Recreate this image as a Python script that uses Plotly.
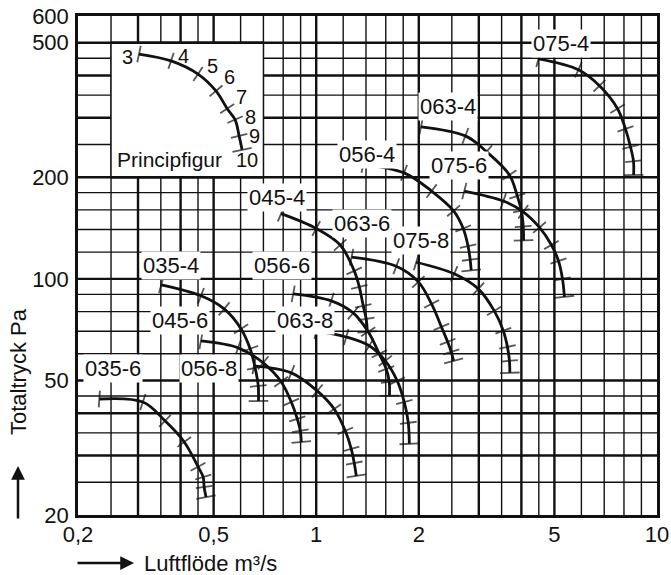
import numpy as np
import plotly.graph_objects as go

# ---------------- axes ----------------
x_min, x_max = 0.2, 10
y_min, y_max = 20, 600
x_tickvals = [0.2, 0.5, 1, 2, 5, 10]
x_ticktext = ["0,2", "0,5", "1", "2", "5", "10"]
y_tickvals = [20, 50, 100, 200, 500, 600]
y_ticktext = ["20", "50", "100", "200", "500", "600"]

x_grid_major = [0.3, 0.4, 0.5, 1, 2, 3, 4, 5]
x_grid_minor = [0.25, 0.35, 0.45, 0.6, 0.7, 0.8, 0.9, 1.2, 1.4, 1.6, 1.8,
                2.5, 3.5, 4.5, 6, 7, 8, 9]
y_grid_major = [30, 40, 50, 100, 200, 300, 400, 500]
y_grid_minor = [25, 35, 45, 60, 70, 80, 90, 120, 140, 160, 180, 250, 350, 450]

# ---------------- fan curves (Luftflöde m3/s, Totaltryck Pa), steps 3..10 ----------------
q_035_6 = [0.231, 0.310, 0.360, 0.410, 0.450, 0.466, 0.469, 0.475]
p_035_6 = [44.1, 43.2, 38.0, 32.9, 27.8, 25.9, 24.2, 22.6]
q_035_4 = [0.351, 0.459, 0.537, 0.602, 0.640, 0.662, 0.676, 0.677]
p_035_4 = [96.0, 89.1, 81.5, 71.1, 62.1, 54.5, 48.2, 43.5]
q_045_6 = [0.459, 0.590, 0.699, 0.789, 0.845, 0.880, 0.898, 0.904]
p_045_6 = [65.5, 62.5, 56.4, 49.6, 43.2, 38.5, 35.5, 32.9]
q_045_4 = [0.789, 1.0, 1.176, 1.293, 1.338, 1.374, 1.402, 1.412]
p_045_4 = [156, 141, 126, 105.6, 94.7, 83.2, 76.1, 69.7]
q_056_8 = [0.657, 0.845, 1.007, 1.129, 1.217, 1.267, 1.293, 1.311]
p_056_8 = [55.3, 52.7, 46.6, 41.2, 35.5, 31.4, 28.5, 26.1]
q_056_6 = [0.856, 1.107, 1.284, 1.421, 1.531, 1.605, 1.638, 1.640]
p_056_6 = [90.3, 86.1, 79.3, 69.7, 60.0, 54.1, 49.6, 45.1]
q_056_4 = [1.374, 1.81, 2.18, 2.53, 2.70, 2.79, 2.83, 2.85]
p_056_4 = [218, 206, 182, 159, 141, 125, 114, 106]
q_063_8 = [1.0, 1.225, 1.431, 1.595, 1.729, 1.813, 1.863, 1.876]
p_063_8 = [70.2, 67.3, 63.4, 57.2, 49.9, 43.2, 37.5, 32.5]
q_063_6 = [1.27, 1.718, 1.994, 2.18, 2.33, 2.43, 2.49, 2.53]
p_063_6 = [116, 109, 98, 84.3, 72.1, 65.1, 60.8, 57.2]
q_063_4 = [2.03, 2.74, 3.16, 3.69, 3.89, 4.0, 4.05, 4.06]
p_063_4 = [282, 265, 238, 203, 176, 159, 143, 130]
q_075_8 = [1.966, 2.54, 2.99, 3.33, 3.54, 3.64, 3.69, 3.70]
p_075_8 = [112, 103.5, 93.4, 80.4, 70.2, 62.9, 57.2, 52.7]
q_075_6 = [2.72, 3.54, 4.05, 4.52, 4.90, 5.14, 5.28, 5.35]
p_075_6 = [182, 170, 158, 142, 126, 113, 100, 88.5]
q_075_4 = [4.49, 5.88, 6.78, 7.66, 8.08, 8.36, 8.53, 8.54]
p_075_4 = [448, 416, 373, 319, 278, 246, 223, 203]

curve_names = ["035-6", "035-4", "045-6", "045-4", "056-8", "056-6", "056-4",
               "063-8", "063-6", "063-4", "075-8", "075-6", "075-4"]
curve_q = [q_035_6, q_035_4, q_045_6, q_045_4, q_056_8, q_056_6, q_056_4,
           q_063_8, q_063_6, q_063_4, q_075_8, q_075_6, q_075_4]
curve_p = [p_035_6, p_035_4, p_045_6, p_045_4, p_056_8, p_056_6, p_056_4,
           p_063_8, p_063_6, p_063_4, p_075_8, p_075_6, p_075_4]

# curve label positions
label_q = [0.2535, 0.375, 0.399, 0.768, 0.485, 0.795, 1.41, 0.928, 1.365, 2.44, 2.03, 2.63, 5.21]
label_p = [54.2, 109.3, 75.1, 174, 54.2, 109.3, 234, 75.1, 146, 323, 130, 216, 496]

# ---------------- Principfigur ----------------
box_q = [0.25, 0.7]
box_p = [200, 500]
q_princip = [0.302, 0.375, 0.450, 0.508, 0.548, 0.578, 0.594, 0.606]
p_princip = [463, 442, 404, 360, 319, 296, 265, 241]
princip_steps = ["3", "4", "5", "6", "7", "8", "9", "10"]
princip_label_q = [0.279, 0.407, 0.495, 0.555, 0.602, 0.640, 0.657, 0.627]
princip_label_p = [454, 457, 427, 396, 346, 302, 265, 225]
princip_title_q, princip_title_p = 0.370, 225

# ---------------- figure geometry ----------------
W, H = 671, 575
ML, MR, MT, MB = 78, 14, 16, 60
PW, PH = W - ML - MR, H - MT - MB
KX = PW / (np.log10(x_max) - np.log10(x_min))
KY = PH / (np.log10(y_max) - np.log10(y_min))

FONT = "Liberation Sans, Arial, Helvetica, sans-serif"
INK = "#111111"

fig = go.Figure()


def grid_trace(vals, vertical, width):
    xs, ys = [], []
    for v in vals:
        if vertical:
            xs += [v, v, None]
            ys += [y_min, y_max, None]
        else:
            xs += [x_min, x_max, None]
            ys += [v, v, None]
    return go.Scatter(x=xs, y=ys, mode="lines", line=dict(color=INK, width=width),
                      hoverinfo="skip", showlegend=False)


fig.add_trace(grid_trace(x_grid_minor, True, 1.4))
fig.add_trace(grid_trace(y_grid_minor, False, 1.4))
fig.add_trace(grid_trace(x_grid_major, True, 2.4))
fig.add_trace(grid_trace(y_grid_major, False, 2.4))

# white Principfigur panel
fig.add_trace(go.Scatter(
    x=[box_q[0], box_q[1], box_q[1], box_q[0], box_q[0]],
    y=[box_p[0], box_p[0], box_p[1], box_p[1], box_p[0]],
    mode="lines", fill="toself", fillcolor="white", line=dict(width=0, color="white"),
    hoverinfo="skip", showlegend=False))
fig.add_trace(go.Scatter(
    x=[box_q[0], box_q[0], None, box_q[1], box_q[1]],
    y=[box_p[0], box_p[1], None, box_p[0], box_p[1]],
    mode="lines", line=dict(color=INK, width=1.4), hoverinfo="skip", showlegend=False))
fig.add_trace(go.Scatter(
    x=[box_q[0], box_q[1], None, box_q[0], box_q[1]],
    y=[box_p[0], box_p[0], None, box_p[1], box_p[1]],
    mode="lines", line=dict(color=INK, width=2.4), hoverinfo="skip", showlegend=False))


def tick_angles(q, p):
    sx = np.log10(np.asarray(q, float)) * KX
    sy = -np.log10(np.asarray(p, float)) * KY
    return np.degrees(np.arctan2(np.gradient(sy), np.gradient(sx)))


def add_curve(q, p, name):
    fig.add_trace(go.Scatter(
        x=q, y=p, mode="lines", name=name,
        line=dict(color=INK, width=2.8, shape="spline", smoothing=1.0),
        hoverinfo="skip", showlegend=False))
    ang = tick_angles(q, p)
    sizes = [12] + [12] * (len(q) - 2) + [14]
    fig.add_trace(go.Scatter(
        x=q, y=p, mode="markers",
        marker=dict(symbol="line-ns", size=sizes, angle=list(ang),
                    line=dict(color=INK, width=1.8)),
        hoverinfo="skip", showlegend=False))


for q, p, n in zip(curve_q, curve_p, curve_names):
    add_curve(q, p, n)
add_curve(q_princip, p_princip, "Principfigur")

annotations = []
for n, q, p in zip(curve_names, label_q, label_p):
    annotations.append(dict(x=np.log10(q), y=np.log10(p), xref="x", yref="y",
                            text=n, showarrow=False, bgcolor="white", borderpad=1,
                            font=dict(family=FONT, size=22, color=INK)))
for t, q, p in zip(princip_steps, princip_label_q, princip_label_p):
    annotations.append(dict(x=np.log10(q), y=np.log10(p), xref="x", yref="y",
                            text=t, showarrow=False,
                            font=dict(family=FONT, size=20, color=INK)))
annotations.append(dict(x=np.log10(princip_title_q), y=np.log10(princip_title_p),
                        xref="x", yref="y", text="Principfigur", showarrow=False,
                        font=dict(family=FONT, size=21, color=INK)))

# axis titles with arrows
annotations.append(dict(x=(142 - ML) / PW, y=-(563 - (MT + PH)) / PH, xref="paper", yref="paper",
                        text="Luftflöde m³/s", showarrow=False, xanchor="left", yanchor="middle",
                        font=dict(family=FONT, size=22, color=INK)))
annotations.append(dict(x=(134 - ML) / PW, y=-(563 - (MT + PH)) / PH, xref="paper", yref="paper",
                        text="", showarrow=True, ax=-58, ay=0, arrowhead=2, arrowsize=1.1,
                        arrowwidth=2.5, arrowcolor=INK))
annotations.append(dict(x=(18 - ML) / PW, y=((MT + PH) - 372) / PH, xref="paper", yref="paper",
                        text="Totaltryck Pa", showarrow=False, textangle=-90,
                        xanchor="center", yanchor="middle",
                        font=dict(family=FONT, size=22, color=INK)))
annotations.append(dict(x=(18 - ML) / PW, y=((MT + PH) - 466) / PH, xref="paper", yref="paper",
                        text="", showarrow=True, ax=0, ay=54, arrowhead=2, arrowsize=1.1,
                        arrowwidth=2.5, arrowcolor=INK))

fig.update_layout(
    width=W, height=H,
    margin=dict(l=ML, r=MR, t=MT, b=MB, pad=0, autoexpand=False),
    paper_bgcolor="white", plot_bgcolor="white",
    showlegend=False,
    annotations=annotations,
    font=dict(family=FONT, size=22, color=INK),
    xaxis=dict(type="log", range=[np.log10(x_min), np.log10(x_max)],
               tickvals=x_tickvals, ticktext=x_ticktext, showgrid=False, zeroline=False,
               showline=True, mirror=True, linecolor=INK, linewidth=2.5, ticks="",
               automargin=False, ticklabelstandoff=-2,
               tickfont=dict(family=FONT, size=22, color=INK)),
    yaxis=dict(type="log", range=[np.log10(y_min), np.log10(y_max)],
               tickvals=y_tickvals, ticktext=y_ticktext, showgrid=False, zeroline=False,
               showline=True, mirror=True, linecolor=INK, linewidth=2.5, ticks="",
               automargin=False, ticklabelstandoff=2,
               tickfont=dict(family=FONT, size=22, color=INK)),
)

fig.write_html("out.html", config={"displayModeBar": False},
               post_script="document.body.style.margin='0';document.body.style.padding='0';")
